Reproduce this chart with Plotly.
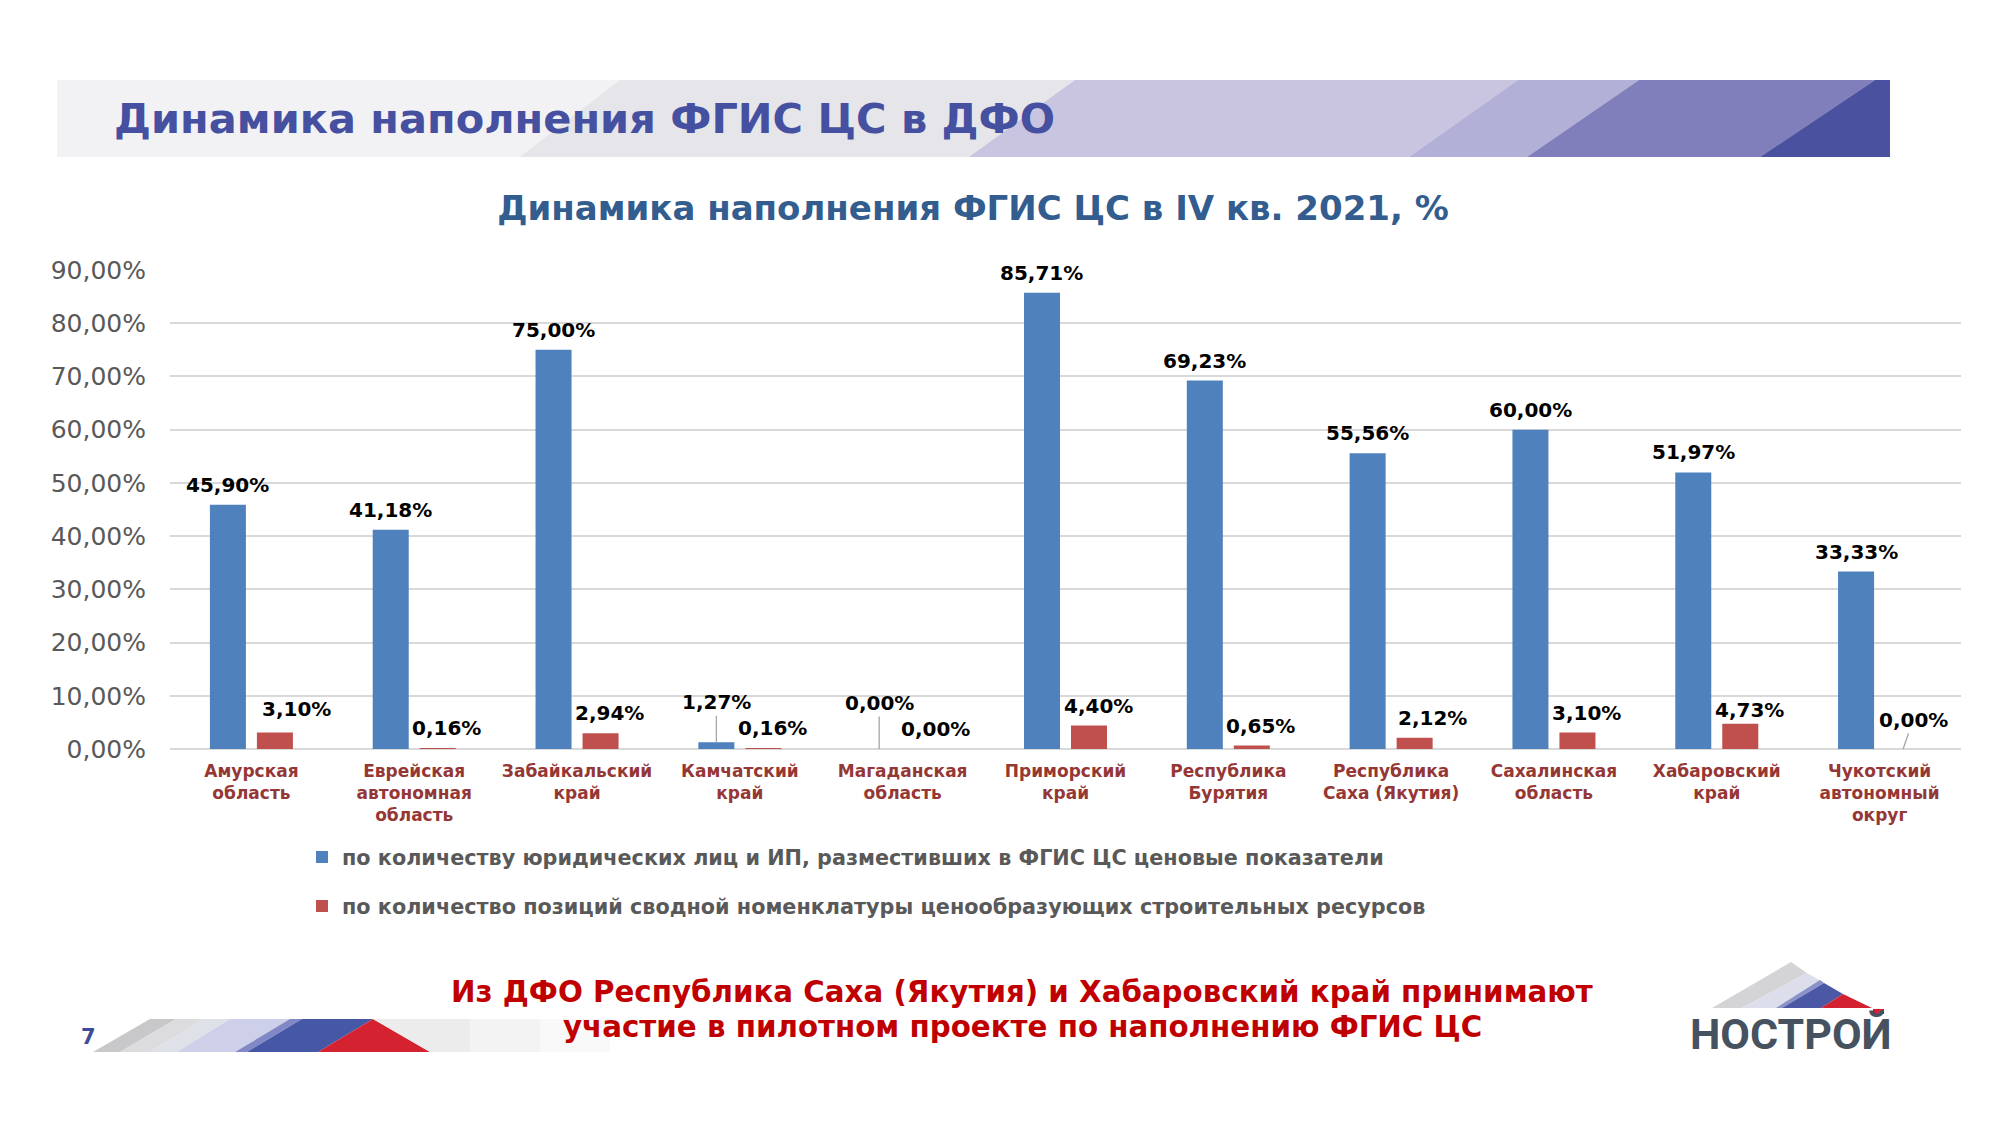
import plotly.graph_objects as go

# ---------------- data ----------------
categories = [
    "Амурская<br>область",
    "Еврейская<br>автономная<br>область",
    "Забайкальский<br>край",
    "Камчатский<br>край",
    "Магаданская<br>область",
    "Приморский<br>край",
    "Республика<br>Бурятия",
    "Республика<br>Саха (Якутия)",
    "Сахалинская<br>область",
    "Хабаровский<br>край",
    "Чукотский<br>автономный<br>округ",
]
legal_entities_pct = [45.90, 41.18, 75.00, 1.27, 0.00, 85.71, 69.23, 55.56, 60.00, 51.97, 33.33]
resource_positions_pct = [3.10, 0.16, 2.94, 0.16, 0.00, 4.40, 0.65, 2.12, 3.10, 4.73, 0.00]
series_names = [
    "по количеству юридических лиц и ИП, разместивших в ФГИС ЦС ценовые показатели",
    "по количество позиций сводной номенклатуры ценообразующих строительных ресурсов",
]
y_tick_values = [0, 10, 20, 30, 40, 50, 60, 70, 80, 90]
header_title = "Динамика наполнения ФГИС ЦС в ДФО"
chart_title = "Динамика наполнения ФГИС ЦС в IV кв. 2021, %"
footer_lines = [
    "Из ДФО Республика Саха (Якутия) и Хабаровский край принимают",
    "участие в пилотном проекте по наполнению ФГИС ЦС",
]
page_number = "7"
logo_text = "НОСТРОЙ"

# ---------------- layout constants ----------------
W, H = 2000, 1125
OFF = 8                      # page body margin of the browser
L, R, T, B = 162, 47, 262, 384
PW, PH = W - L - R, H - T - B
FONT = "DejaVu Sans"
BARGAP, BARGROUPGAP = 0.4226, 0.234
BLUE, RED = "#4f81bd", "#c0504d"


def px(X):
    return (X - OFF - L) / PW


def py(Y):
    return (H - B - (Y - OFF)) / PH


def poly(points, color):
    d = "M " + " L ".join(f"{px(x):.5f},{py(y):.5f}" for x, y in points) + " Z"
    fig.add_shape(type="path", path=d, xref="paper", yref="paper",
                  fillcolor=color, line_width=0, layer="above")


def fmt(v):
    return f"{v:.2f}".replace(".", ",") + "%"


fig = go.Figure()
fig.add_trace(go.Bar(x=categories, y=legal_entities_pct, name=series_names[0],
                     marker_color=BLUE, marker_line_width=0, legend="legend",
                     hoverinfo="skip"))
fig.add_trace(go.Bar(x=categories, y=resource_positions_pct, name=series_names[1],
                     marker_color=RED, marker_line_width=0, legend="legend2",
                     hoverinfo="skip"))

# ---------------- data labels (Excel-style manual placement) ----------------
cat_px = PW / len(categories)
slot = cat_px * (1 - BARGAP) / 2
bar_offsets = [-slot / 2, slot / 2]
default_dx = [0, 9]
default_dy = [20, 20]
label_dx = {(1, 0): 22, (1, 7): 18}
label_dy = {(1, 0): 24, (1, 9): 14}
leaders = {(0, 3): (0, -40), (0, 4): (0, -46), (1, 10): (10, -29)}
label_font = dict(family=FONT, size=20, color="#000000", weight="bold")

for s, vals in enumerate([legal_entities_pct, resource_positions_pct]):
    for i, v in enumerate(vals):
        key = (s, i)
        if key in leaders:
            ax, ay = leaders[key]
            fig.add_annotation(x=categories[i], y=v, xref="x", yref="y", text=fmt(v),
                               font=label_font, showarrow=True, arrowhead=0,
                               arrowwidth=1.3, arrowcolor="#a6a6a6", ax=ax, ay=ay,
                               standoff=0, xshift=bar_offsets[s])
        else:
            fig.add_annotation(x=categories[i], y=v, xref="x", yref="y", text=fmt(v),
                               font=label_font, showarrow=False, yanchor="middle",
                               xanchor="center",
                               xshift=bar_offsets[s] + label_dx.get(key, default_dx[s]),
                               yshift=label_dy.get(key, default_dy[s]))

# ---------------- header band ----------------
poly([(57, 80), (1890, 80), (1890, 157), (57, 157)], "#ebebef")
poly([(57, 80), (620, 80), (520, 157), (57, 157)], "#f2f2f5")
poly([(620, 80), (1075, 80), (969, 157), (520, 157)], "#e5e5ea")
poly([(1075, 80), (1518, 80), (1409, 157), (969, 157)], "#c9c5e1")
poly([(1518, 80), (1639, 80), (1527, 157), (1409, 157)], "#b2b0d7")
poly([(1639, 80), (1875, 80), (1760, 157), (1527, 157)], "#807fbb")
poly([(1875, 80), (1890, 80), (1890, 157), (1760, 157)], "#4a529f")

fig.add_annotation(x=px(112), y=py(118), xref="paper", yref="paper", xanchor="left",
                   yanchor="middle", text=header_title, showarrow=False,
                   font=dict(family=FONT, size=41.5, color="#4650a0", weight="bold"))

# ---------------- bottom-left stripe ----------------
poly([(93, 1052), (150, 1019), (176, 1019), (120, 1052)], "#c8c8ca")
poly([(120, 1052), (176, 1019), (203, 1019), (150, 1052)], "#dcdcde")
poly([(150, 1052), (203, 1019), (230, 1019), (177, 1052)], "#dfe1e8")
poly([(177, 1052), (230, 1019), (290, 1019), (235, 1052)], "#cdd0e8")
poly([(235, 1052), (290, 1019), (302, 1019), (247, 1052)], "#8088c6")
poly([(247, 1052), (302, 1019), (373, 1019), (318, 1052)], "#4657a5")
poly([(318, 1052), (373, 1019), (430, 1052)], "#d42231")
poly([(373, 1019), (470, 1019), (470, 1052), (430, 1052)], "#ececec")
poly([(470, 1019), (540, 1019), (540, 1052), (470, 1052)], "#f3f3f3")
poly([(540, 1019), (610, 1019), (610, 1052), (540, 1052)], "#f9f9f9")

fig.add_annotation(x=px(88), y=py(1037), xref="paper", yref="paper", text=page_number,
                   showarrow=False, xanchor="center", yanchor="middle",
                   font=dict(family=FONT, size=21, color="#3e4a9a", weight="bold"))

# ---------------- footer text ----------------
for line, yy in zip(footer_lines, [992, 1027]):
    fig.add_annotation(x=px(1022), y=py(yy), xref="paper", yref="paper", text=line,
                       showarrow=False, xanchor="center", yanchor="middle",
                       font=dict(family=FONT, size=29.3, color="#c00000", weight="bold"))

# ---------------- logo ----------------
apex, bl, br = (1791, 962), (1712, 1008), (1872, 1008)
poly([apex, bl, (1742, 1008), (1807, 973)], "#d4d4d6")
poly([(1742, 1008), (1780, 1008), (1823, 982), (1807, 973)], "#dcdeec")
poly([(1776, 1008), (1782, 1008), (1824, 983), (1820, 980)], "#8a92c8")
poly([(1782, 1008), (1821, 1008), (1843, 994), (1824, 983)], "#4a58a6")
poly([(1821, 1008), br, (1843, 994)], "#d42130")
poly([(1873, 1009), (1884, 1009), (1884, 1014), (1873, 1014)], "#d42130")
fig.add_annotation(x=px(1791), y=py(1034), xref="paper", yref="paper", text=logo_text,
                   showarrow=False, xanchor="center", yanchor="middle",
                   font=dict(family="Roboto", size=43, color="#475260", weight="bold"))

# ---------------- layout ----------------
legend_font = dict(family=FONT, size=20.75, color="#595959", weight="bold")
fig.update_layout(
    width=W, height=H,
    margin=dict(l=L, r=R, t=T, b=B, pad=0),
    paper_bgcolor="white", plot_bgcolor="white",
    separators=", ",
    barmode="group", bargap=BARGAP, bargroupgap=BARGROUPGAP,
    title=dict(text=chart_title, x=(973 - OFF) / W, xref="container", xanchor="center",
               y=1 - (208 - OFF) / H, yref="container", yanchor="middle",
               font=dict(family=FONT, size=34, color="#325d8e", weight="bold")),
    xaxis=dict(showgrid=False, showline=False, ticks="", ticklabelstandoff=10,
               tickfont=dict(family=FONT, size=17, color="#953735", weight="bold")),
    yaxis=dict(range=[0, 90], tickvals=y_tick_values,
               ticktext=[fmt(v) for v in y_tick_values],
               showgrid=True, gridcolor="#d9d9d9", gridwidth=1.5,
               zeroline=True, zerolinecolor="#d9d9d9", zerolinewidth=1.5,
               showline=False, ticks="", ticklabelstandoff=23,
               tickfont=dict(family=FONT, size=25, color="#595959")),
    legend=dict(x=px(302), xanchor="left", y=py(857), yanchor="middle",
                font=legend_font, bgcolor="rgba(0,0,0,0)"),
    legend2=dict(x=px(302), xanchor="left", y=py(906), yanchor="middle",
                 font=legend_font, bgcolor="rgba(0,0,0,0)"),
    showlegend=True,
)

fig.write_html("out.html")
